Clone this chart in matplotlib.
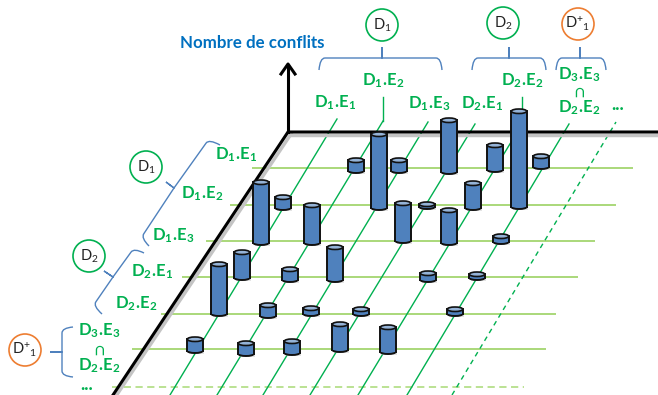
import numpy as np
import matplotlib
matplotlib.use('Agg')
import matplotlib.pyplot as plt
from matplotlib.patches import Ellipse, Rectangle, PathPatch
from matplotlib.path import Path

plt.rcParams['font.family'] = ['Lato', 'DejaVu Sans']
plt.rcParams['mathtext.fontset'] = 'custom'
plt.rcParams['mathtext.rm'] = 'Lato'
plt.rcParams['mathtext.bf'] = 'Lato:bold'
plt.rcParams['mathtext.default'] = 'rm'

# cylinders (pixels)
cyl_x = [261, 283, 312, 242, 219, 290, 268, 311, 195, 246, 292,
         379, 356, 399, 449, 495, 541, 519, 473, 403, 427, 449,
         501, 428, 477, 361, 455, 340, 388, 335]
cyl_top = [180, 195, 203, 250, 262, 267, 303, 306, 337, 341, 339,
           132, 158, 158, 118, 143, 154, 109, 181, 201, 202, 208,
           234, 271, 272, 307, 307, 322, 325, 245]
cyl_bottom = [245, 210, 245, 280, 316, 282, 318, 316, 353, 356, 355,
              210, 173, 173, 174, 172, 169, 209, 210, 243, 209, 245,
              244, 282, 280, 316, 316, 352, 354, 282]

# horizontal grid lines
row_y = [168, 205, 241, 277, 314, 349]
row_start = [252, 230, 206, 182, 161, 132]
row_end = [633, 616, 595, 578, 556, 546]
dash_row = [387, 112, 524]

# slanted grid lines
col_bottom = [170, 217, 263, 310, 358, 407]
col_top_x = [337, 383, 428, 475, 522, 569]
col_top_y = [119, 121, 122, 124, 124, 124]

labels = ['$\\mathbf{D_1{.}\\!E_1}$', '$\\mathbf{D_1{.}\\!E_2}$', '$\\mathbf{D_1{.}\\!E_3}$',
          '$\\mathbf{D_2{.}\\!E_1}$', '$\\mathbf{D_2{.}\\!E_2}$', '$\\mathbf{D_3{.}\\!E_3}$',
          '$\\mathbf{D_2{.}\\!E_2}$', '$\\mathbf{D_1{.}\\!E_1}$', '$\\mathbf{D_1{.}\\!E_2}$',
          '$\\mathbf{D_1{.}\\!E_3}$', '$\\mathbf{D_2{.}\\!E_1}$', '$\\mathbf{D_2{.}\\!E_2}$',
          '$\\mathbf{D_3{.}\\!E_3}$', '$\\mathbf{D_2{.}\\!E_2}$']
label_x = [236, 202, 173, 152, 136, 99, 99, 335, 383, 429, 482, 522, 579, 579]
label_y = [155, 194, 236, 272, 304, 331, 366, 103, 81, 104, 104, 81, 75, 108]

circle_text = ['$D_1$', '$D_2$', '$D^{+}{}_{1}$', '$D_1$', '$D_2$', '$D^{+}{}_{1}$']
circle_x = [382, 503, 578, 146, 89, 25]
circle_y = [25, 23, 24, 167, 256, 350]
circle_col = ['#00B050', '#00B050', '#ED7D31', '#00B050', '#00B050', '#ED7D31']

GREEN = '#00B050'
BLUE = '#4F81BD'


def brace(ax, start, corner1, mid, tip, corner2, end, r=5):
    start, corner1, mid, tip, corner2, end = [np.array(p, float) for p in
                                              (start, corner1, mid, tip, corner2, end)]
    d1 = mid - corner1
    d2 = mid - corner2
    p1 = corner1 + d1 / np.hypot(*d1) * r
    p2 = corner2 + d2 / np.hypot(*d2) * r
    verts = [start, corner1, p1, mid, tip, mid, p2, corner2, end]
    codes = [Path.MOVETO, Path.CURVE3, Path.CURVE3, Path.LINETO, Path.LINETO,
             Path.LINETO, Path.LINETO, Path.CURVE3, Path.CURVE3]
    ax.add_patch(PathPatch(Path(verts, codes), fill=False, ec=BLUE, lw=1, zorder=3))


def cylinder(ax, x, top, bottom, w=15.5, h=4.5):
    top_c = top + h / 2
    bot_c = bottom - h / 2
    # soft shadow
    ax.add_patch(Rectangle((x - w / 2 + 1.5, top_c + 1), w, bot_c - top_c + 2,
                           fc='#c8c8c8', ec='none', alpha=0.5, zorder=4))
    ax.add_patch(Ellipse((x, bot_c), w, h, fc='#4F81BD', ec='#111111', lw=1.4, zorder=5))
    ax.add_patch(Rectangle((x - w / 2, top_c), w, bot_c - top_c, fc='#4F81BD', ec='none', zorder=5))
    ax.plot([x - w / 2, x - w / 2], [top_c, bot_c], color='#111111', lw=1.4, zorder=6)
    ax.plot([x + w / 2, x + w / 2], [top_c, bot_c], color='#111111', lw=1.4, zorder=6)
    ax.add_patch(Ellipse((x, top_c), w, h, fc='#95B3D7', ec='#111111', lw=1.2, zorder=7))


fig = plt.figure(figsize=(6.58, 3.95), dpi=100)
ax = fig.add_axes([0, 0, 1, 1])
ax.set_xlim(0, 658)
ax.set_ylim(395, 0)
ax.axis('off')

# grid
for y, x0, x1 in zip(row_y, row_start, row_end):
    ax.plot([x0, x1], [y, y], color='#A4D670', lw=1.3, zorder=1, solid_capstyle='butt')
ax.plot([dash_row[1], dash_row[2]], [dash_row[0], dash_row[0]], color='#B5DF8A', lw=1.3,
        ls=(0, (4, 2.5)), zorder=1)
for xb, xt, yt in zip(col_bottom, col_top_x, col_top_y):
    ax.plot([xb, xt], [395, yt], color=GREEN, lw=1, zorder=2)
ax.plot([452, 616], [395, 122], color=GREEN, lw=1, ls=(0, (3.5, 3)), zorder=2)
ax.plot([383, 383], [97, 121], color=GREEN, lw=1, zorder=2)
ax.plot([522, 522], [97, 124], color=GREEN, lw=1, zorder=2)

# axes with their shadow
ax.plot([290, 658], [135, 135], color='#c4c4c4', lw=2.5, zorder=2.5)
ax.plot([116, 291], [396, 134], color='#c4c4c4', lw=2.5, zorder=2.5)
ax.plot([658, 288, 113], [132, 132, 395], color='black', lw=2.2, zorder=3,
        solid_joinstyle='miter')
ax.plot([288, 288], [132, 66], color='black', lw=2.2, zorder=3)
ax.plot([281, 288, 295], [74, 64, 74], color='black', lw=2.2, zorder=3)

for x, t, b in zip(cyl_x, cyl_top, cyl_bottom):
    cylinder(ax, x, t, b)

# braces
brace(ax, (319, 70), (320, 58), (382, 58), (382, 47), (441, 58), (442, 70))
brace(ax, (472, 70), (473, 58), (509, 58), (509, 47), (545, 58), (546, 70))
brace(ax, (556, 70), (557, 58), (580, 58), (580, 47), (605, 58), (606, 70))
brace(ax, (220, 145), (209, 139), (174, 188), (166, 182), (141, 238), (149, 246))
brace(ax, (144, 253), (134, 248), (113, 277), (104, 271), (93, 306), (102, 314))
brace(ax, (73, 327), (62, 328), (62, 352), (50, 352), (62, 376), (73, 377))

# texts
for s, x, y in zip(labels, label_x, label_y):
    ax.text(x, y, s, color=GREEN, fontsize=12, ha='center', va='center', zorder=8)
ax.text(99, 350, '∩', color=GREEN, fontsize=12, fontweight='bold', ha='center', va='center', zorder=8)
ax.text(579, 92, '∩', color=GREEN, fontsize=12, fontweight='bold', ha='center', va='center', zorder=8)
ax.text(87, 384, '...', color=GREEN, fontsize=13, fontweight='bold', ha='center', va='center', zorder=8)
ax.text(618, 105, '...', color=GREEN, fontsize=13, fontweight='bold', ha='center', va='center', zorder=8)
ax.text(252, 43, 'Nombre de conflits', color='#0070C0', fontsize=12.2, fontweight='bold',
        ha='center', va='center', zorder=8)

for s, x, y, c in zip(circle_text, circle_x, circle_y, circle_col):
    ax.add_patch(Ellipse((x, y), 32, 32, fc='white', ec=c, lw=1.2, zorder=8))
    ax.text(x, y, s, color='#222222', fontsize=10.5, ha='center', va='center', zorder=9)

fig.savefig('out.png', dpi=100)
